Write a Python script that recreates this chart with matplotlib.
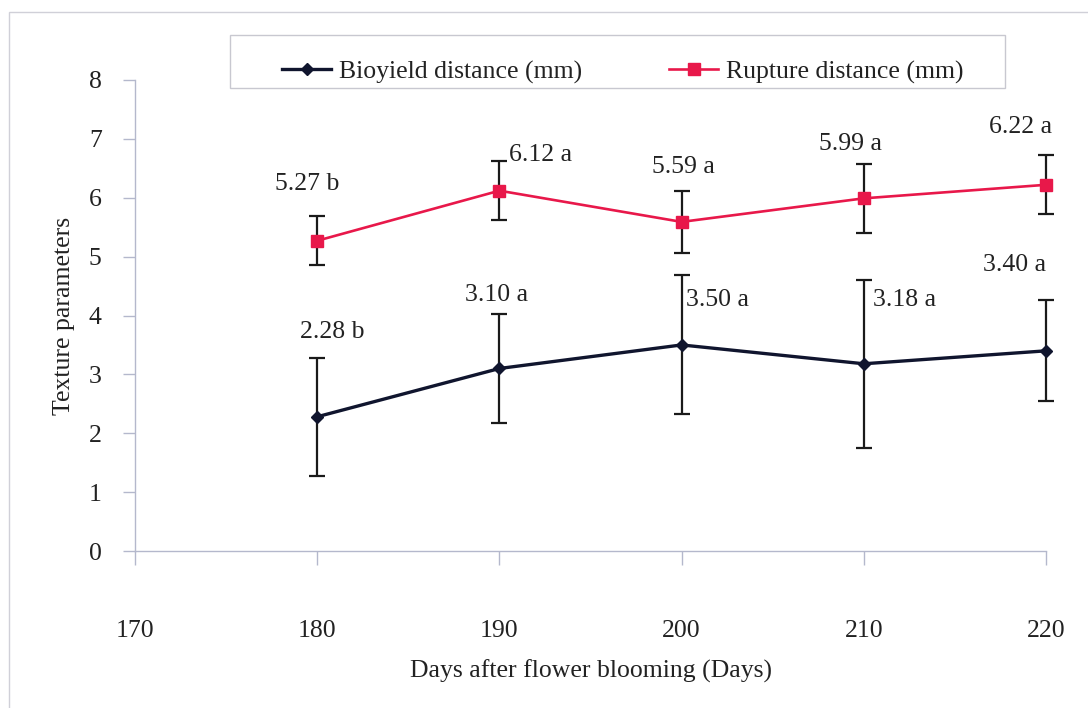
import matplotlib.pyplot as plt
from matplotlib.lines import Line2D
from matplotlib.patches import Rectangle

plt.rcParams["font.family"] = ["Liberation Serif", "DejaVu Serif"]

# Sampling days and measured means with their error ranges
days = [180, 190, 200, 210, 220]
bioyield = [2.28, 3.10, 3.50, 3.18, 3.40]
bioyield_err = [1.00, 0.93, 1.18, 1.43, 0.86]
bioyield_group = ["b", "a", "a", "a", "a"]
rupture = [5.27, 6.12, 5.59, 5.99, 6.22]
rupture_err = [0.42, 0.50, 0.52, 0.59, 0.50]
rupture_group = ["b", "a", "a", "a", "a"]

x_ticks = [170, 180, 190, 200, 210, 220]
y_ticks = [0, 1, 2, 3, 4, 5, 6, 7, 8]

# label offsets (days, units) and horizontal alignment for each annotation
bio_label_off = [(0.8, 1.44), (-0.15, 1.25), (0.25, 0.76), (0.5, 1.08), (-1.7, 1.46)]
bio_label_ha = ["center", "center", "left", "left", "center"]
rup_label_off = [(-0.55, 0.97), (0.55, 0.60), (0.1, 0.93), (-0.75, 0.92), (-1.4, 0.98)]
rup_label_ha = ["center", "left", "center", "center", "center"]

NAVY = "#10152e"
CRIMSON = "#e8184a"
AXIS = "#b4b8cc"
TEXT = "#222222"
FS = 18.5
W, H = 1088, 708

fig = plt.figure(figsize=(W / 100, H / 100), dpi=100)
ax = fig.add_axes([135 / W, 1 - 551 / H, (1046 - 135) / W, (551 - 80) / H])

bio = ax.errorbar(days, bioyield, yerr=bioyield_err, color=NAVY, lw=2.4,
                  marker="D", ms=6, ecolor="#1a1a1a", elinewidth=1.6, capsize=5.5,
                  capthick=1.6, zorder=3)
rup = ax.errorbar(days, rupture, yerr=rupture_err, color=CRIMSON, lw=1.9,
                  marker="s", ms=8.5, ecolor="#1a1a1a", elinewidth=1.6, capsize=5.5,
                  capthick=1.6, zorder=3)
for container in (bio, rup):
    for artist in container.lines[0:1] + tuple(container.lines[1]) + tuple(container.lines[2]):
        artist.set_clip_on(False)

for d, v, g, (dx, dy), ha in zip(days, bioyield, bioyield_group, bio_label_off, bio_label_ha):
    ax.text(d + dx, v + dy, f"{v:.2f} {g}", ha=ha, va="center", fontsize=FS, color=TEXT)
for d, v, g, (dx, dy), ha in zip(days, rupture, rupture_group, rup_label_off, rup_label_ha):
    ax.text(d + dx, v + dy, f"{v:.2f} {g}", ha=ha, va="center", fontsize=FS, color=TEXT)

ax.set_xlim(170, 220)
ax.set_ylim(0, 8)
ax.set_xticks(x_ticks)
ax.set_yticks(y_ticks)
for side in ("top", "right"):
    ax.spines[side].set_visible(False)
for side in ("left", "bottom"):
    ax.spines[side].set_color(AXIS)
    ax.spines[side].set_linewidth(1.0)
ax.tick_params(axis="y", direction="out", length=9, width=1.0, color=AXIS,
               pad=15, labelsize=FS, labelcolor=TEXT)
ax.tick_params(axis="x", direction="out", length=10, width=1.0, color=AXIS,
               pad=40, labelsize=FS, labelcolor=TEXT)
ax.set_xlabel("Days after flower blooming (Days)", fontsize=FS, color=TEXT, labelpad=12)
ax.set_ylabel("Texture parameters", fontsize=FS, color=TEXT, labelpad=10)

# legend box drawn on its own, entries sit in its lower part
fig.patches.append(Rectangle((230 / W, 1 - 88 / H), (1005 - 230) / W, (88 - 35) / H,
                             transform=fig.transFigure, fill=True, facecolor="white",
                             edgecolor="#c8c8d0", lw=1.0, zorder=4))
handles = [
    Line2D([], [], color=NAVY, lw=2.4, marker="D", ms=6),
    Line2D([], [], color=CRIMSON, lw=1.9, marker="s", ms=8.5),
]
leg = fig.legend(handles, ["Bioyield distance (mm)", "Rupture distance (mm)"],
                 loc="center", bbox_to_anchor=(623 / W, 1 - 72 / H),
                 ncol=2, fontsize=FS, frameon=False,
                 handlelength=1.9, handletextpad=0.3, columnspacing=3.4,
                 borderpad=0.0, labelcolor=TEXT)
leg.set_zorder(5)

# outer chart frame
fig.patches.append(Rectangle((9 / W, -0.1), 1.2, 1.1 - 12 / H,
                             transform=fig.transFigure, fill=False,
                             edgecolor="#d0d0d8", lw=1.0))

fig.savefig("out.png", dpi=100)
